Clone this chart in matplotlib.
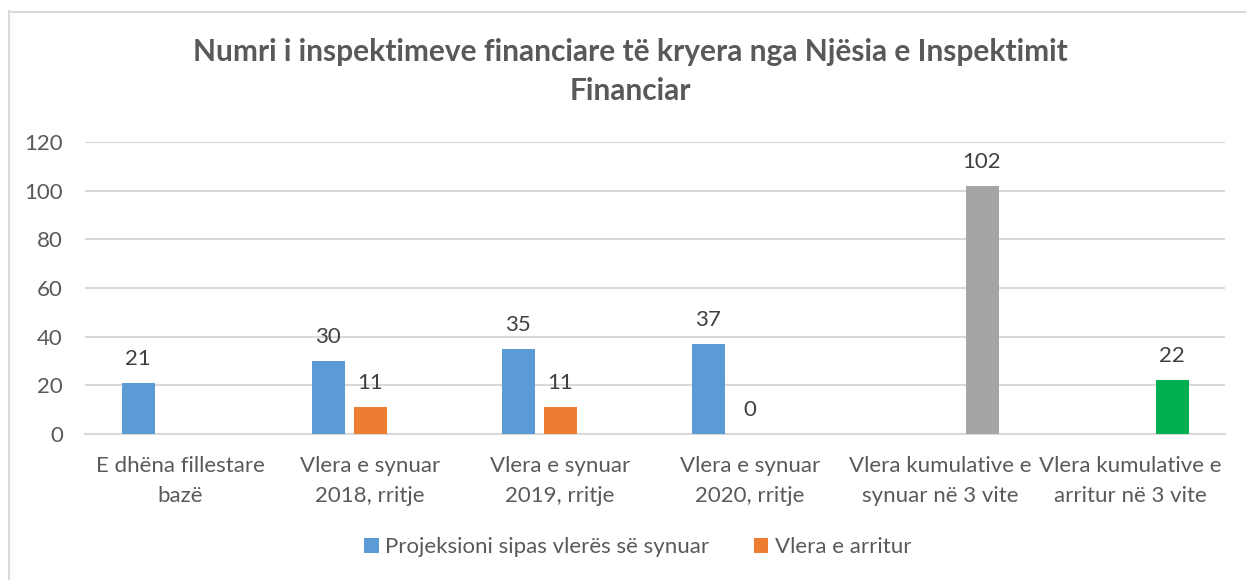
import matplotlib
matplotlib.use("Agg")
import matplotlib.pyplot as plt
from matplotlib.patches import Patch
from matplotlib.lines import Line2D
import numpy as np

# ---- data ----
categories = [
    "E dhëna fillestare\nbazë",
    "Vlera e synuar\n2018, rritje",
    "Vlera e synuar\n2019, rritje",
    "Vlera e synuar\n2020, rritje",
    "Vlera kumulative e\nsynuar në 3 vite",
    "Vlera kumulative e\narritur në 3 vite",
]
projeksioni = [21, 30, 35, 37, np.nan, np.nan]
arritur = [np.nan, 11, 11, 0, np.nan, np.nan]
kumulative = [np.nan, np.nan, np.nan, np.nan, 102, 22]
series_names = ["Projeksioni sipas vlerës së synuar", "Vlera e arritur"]
title_lines = ["Numri i inspektimeve financiare të kryera nga Njësia e Inspektimit", "Financiar"]
yticks = [0, 20, 40, 60, 80, 100, 120]

# ---- style ----
FONT = "Lato"
TXT = "#595959"
BLUE = "#5B9BD5"
ORANGE = "#ED7D31"
GRAY = "#A5A5A5"
GREEN = "#00B050"
GRID = "#D9D9D9"
kum_colors = [GRAY, GRAY, GRAY, GRAY, GRAY, GREEN]
FS = 16

plt.rcParams["font.family"] = [FONT, "DejaVu Sans"]

W, H = 1246, 580
fig = plt.figure(figsize=(W / 100, H / 100), dpi=100)
ax = fig.add_axes([85 / W, (H - 434) / H, (1225 - 85) / W, (434 - 142) / H])

x = np.arange(len(categories))
bw = 33 / 190
off = 42 / 190

def draw(vals, dx, colors):
    for xi, v, c in zip(x, vals, colors):
        if np.isnan(v):
            continue
        ax.bar(xi + dx, v, width=bw, color=c, zorder=3)
        ax.annotate(f"{int(v)}", (xi + dx, v), xytext=(0, 13), textcoords="offset points",
                    ha="center", va="baseline", fontsize=FS, color="#404040", zorder=4)

draw(projeksioni, -off, [BLUE] * 6)
draw(arritur, 0, [ORANGE] * 6)
draw(kumulative, off, kum_colors)

ax.set_xlim(-0.5, len(categories) - 0.5)
ax.set_ylim(0, 120)
ax.set_yticks(yticks)
ax.set_yticklabels([str(t) for t in yticks], fontsize=FS, color=TXT)
ax.set_xticks(x)
ax.set_xticklabels(categories, fontsize=FS, color=TXT, linespacing=1.6)
ax.tick_params(axis="y", length=0, pad=16)
ax.tick_params(axis="x", length=0, pad=16)
ax.grid(axis="y", color=GRID, linewidth=1.5, zorder=0)
for s in ["left", "right", "top"]:
    ax.spines[s].set_visible(False)
ax.spines["bottom"].set_color(GRID)
ax.spines["bottom"].set_linewidth(1.5)

# title
fig.text(630 / W, 1 - 61 / H, title_lines[0], ha="center", va="baseline",
         fontsize=21.5, fontweight="bold", color=TXT)
fig.text(630 / W, 1 - 100 / H, title_lines[1], ha="center", va="baseline",
         fontsize=21.5, fontweight="bold", color=TXT)

# legend
handles = [Patch(facecolor=BLUE, edgecolor="none"), Patch(facecolor=ORANGE, edgecolor="none")]
fig.legend(handles, series_names, loc="center", bbox_to_anchor=(638 / W, 1 - 547 / H),
           ncol=2, frameon=False, fontsize=FS, labelcolor=TXT,
           handlelength=0.65, handleheight=0.65, handletextpad=0.3, columnspacing=2.0)

# chart area border (left and top edges visible)
fig.add_artist(Line2D([8.5 / W, 8.5 / W], [0, 1 - 11 / H], transform=fig.transFigure,
                      color=GRID, linewidth=1.5))
fig.add_artist(Line2D([8.5 / W, 1], [1 - 11.5 / H, 1 - 11.5 / H], transform=fig.transFigure,
                      color=GRID, linewidth=1.5))

fig.savefig("out.png", dpi=100)
